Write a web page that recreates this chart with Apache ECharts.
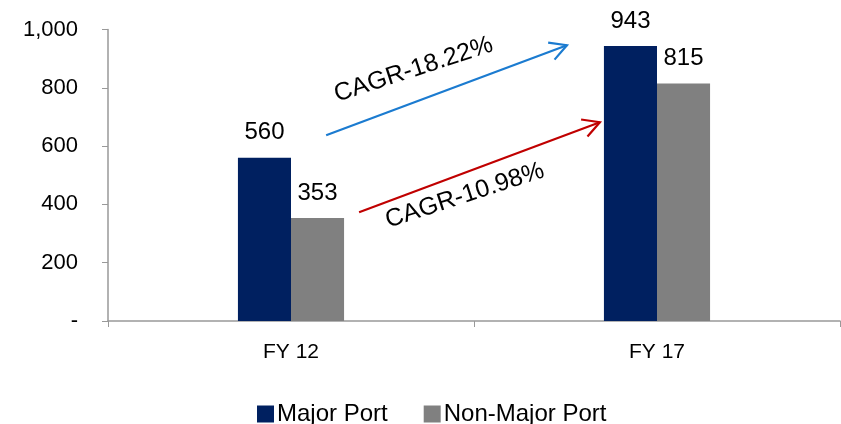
<!DOCTYPE html>
<html>
<head>
<meta charset="utf-8">
<script src="https://cdn.jsdelivr.net/npm/echarts@6/dist/echarts.min.js"></script>
<style>html,body{margin:0;padding:0;background:#fff}#c{width:841px;height:424px}</style>
</head>
<body>
<div id="c"></div>
<script>
// ---- data ----
const categories = ['FY 12', 'FY 17'];
const majorPort = [560, 943];
const nonMajorPort = [353, 815];
const seriesNames = ['Major Port', 'Non-Major Port'];
const yTicks = [0, 200, 400, 600, 800, 1000];
// CAGR annotations (data space of a hidden 0..2 x scale, category centres at 0.5 and 1.5)
const cagrLabels = ['CAGR-18.22%', 'CAGR-10.98%'];
const arrowFrom = [[0.596, 637], [0.686, 373]];
const arrowTo = [[1.254, 946], [1.344, 682]];
const labelAt = [[0.835, 862], [0.975, 430]];
const arrowColors = ['#1B7BD0', '#C00000'];

const chart = echarts.init(document.getElementById('c'), null, {renderer: 'canvas'});
const annoData = cagrLabels.map((t, i) => [arrowFrom[i][0], arrowFrom[i][1], arrowTo[i][0], arrowTo[i][1], labelAt[i][0], labelAt[i][1], i]);
const FONT = 'Liberation Sans, Arial, sans-serif';

const option = {
  animation: false,
  grid: {left: 108, right: 1, top: 29.5, bottom: 103, containLabel: false},
  legend: {
    data: seriesNames,
    left: 252, top: 397,
    itemWidth: 17, itemHeight: 17, itemGap: 36,
    icon: 'rect',
    textStyle: {fontFamily: FONT, fontSize: 24, color: '#000', padding: [0, 0, 0, -2]}
  },
  xAxis: [{
    type: 'category', data: categories,
    axisLine: {lineStyle: {color: '#999', width: 1.5}},
    axisTick: {show: true, length: 6, lineStyle: {color: '#999'}},
    axisLabel: {fontFamily: FONT, fontSize: 21, color: '#000', margin: 21}
  }, {
    type: 'value', min: 0, max: 2, show: false
  }],
  yAxis: {
    type: 'value', min: yTicks[0], max: yTicks[yTicks.length - 1], interval: 200,
    splitLine: {show: false},
    axisLine: {show: true, lineStyle: {color: '#999', width: 1.5}},
    axisTick: {show: true, length: 6, lineStyle: {color: '#999'}},
    axisLabel: {
      fontFamily: FONT, fontSize: 22, color: '#000', margin: 30,
      formatter: v => v === 0 ? '-' : v.toLocaleString('en-US')
    }
  },
  series: [{
    name: seriesNames[0], type: 'bar', data: majorPort, barGap: '0%', barCategoryGap: '71%',
    itemStyle: {color: '#002060'},
    label: {show: true, position: 'top', distance: 13, fontFamily: FONT, fontSize: 24, color: '#000'}
  }, {
    name: seriesNames[1], type: 'bar', data: nonMajorPort,
    itemStyle: {color: '#808080'},
    label: {show: true, position: 'top', distance: 13, fontFamily: FONT, fontSize: 24, color: '#000'}
  }, {
    type: 'custom', xAxisIndex: 1, yAxisIndex: 0, data: annoData, silent: true, z: 10,
    renderItem: function (params, api) {
      const p1 = api.coord([api.value(0), api.value(1)]);
      const p2 = api.coord([api.value(2), api.value(3)]);
      const pl = api.coord([api.value(4), api.value(5)]);
      const idx = api.value(6);
      const color = arrowColors[idx];
      const ang = Math.atan2(p2[1] - p1[1], p2[0] - p1[0]);
      const L = 19, a = 0.5;
      const h1 = [p2[0] - L * Math.cos(ang - a), p2[1] - L * Math.sin(ang - a)];
      const h2 = [p2[0] - L * Math.cos(ang + a), p2[1] - L * Math.sin(ang + a)];
      return {
        type: 'group',
        children: [
          {type: 'line', shape: {x1: p1[0], y1: p1[1], x2: p2[0], y2: p2[1]}, style: {stroke: color, lineWidth: 2.2}},
          {type: 'polyline', shape: {points: [h1, p2, h2]}, style: {stroke: color, lineWidth: 2.2, fill: null}},
          {type: 'text', x: pl[0], y: pl[1], rotation: 18 * Math.PI / 180,
           style: {text: cagrLabels[idx], fontFamily: FONT, fontSize: 25, fill: '#000', align: 'center', verticalAlign: 'middle'}}
        ]
      };
    }
  }]
};
chart.setOption(option);
</script>
</body>
</html>
